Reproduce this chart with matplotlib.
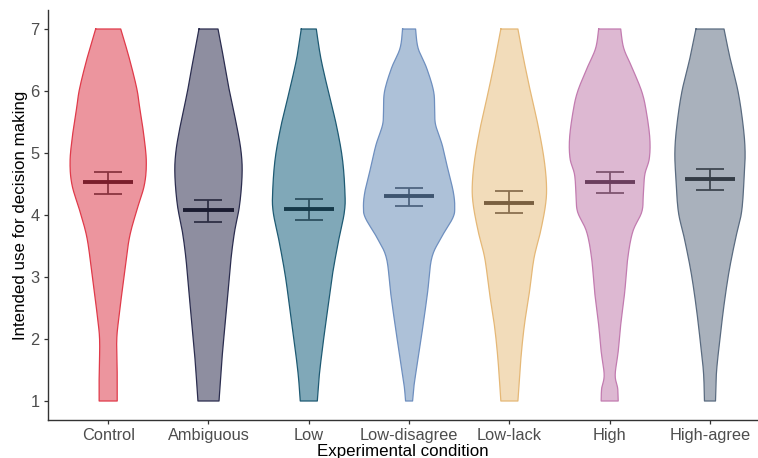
import numpy as np
import matplotlib
matplotlib.use("Agg")
import matplotlib.pyplot as plt

plt.rcParams['font.family'] = ['Liberation Sans', 'DejaVu Sans']

# Conditions and summary statistics (mean with 95% CI)
conditions = ["Control", "Ambiguous", "Low", "Low-disagree", "Low-lack", "High", "High-agree"]
means = [4.53, 4.08, 4.09, 4.30, 4.20, 4.53, 4.58]
ci_low = [4.34, 3.89, 3.92, 4.14, 4.03, 4.36, 4.40]
ci_high = [4.70, 4.25, 4.26, 4.44, 4.38, 4.70, 4.74]

# Violin density profiles: response level -> full violin width (x units)
control_y = [7, 6.53, 6.04, 5.72, 5.29, 4.86, 4.48, 4.05, 3.62, 3.03, 2.33, 1.96, 1.42, 1]
control_w = [0.25, 0.42, 0.57, 0.63, 0.71, 0.76, 0.72, 0.56, 0.42, 0.32, 0.21, 0.17, 0.18, 0.18]

ambiguous_y = [7, 6.53, 5.99, 5.45, 5.02, 4.65, 4.16, 3.73, 3.30, 2.76, 2.23, 1.69, 1]
ambiguous_w = [0.19, 0.30, 0.42, 0.56, 0.65, 0.67, 0.62, 0.52, 0.45, 0.39, 0.33, 0.27, 0.21]

low_y = [7, 6.53, 5.99, 5.45, 4.91, 4.38, 4.05, 3.57, 3.03, 2.50, 1.96, 1.42, 1]
low_w = [0.15, 0.24, 0.39, 0.55, 0.67, 0.72, 0.71, 0.59, 0.47, 0.38, 0.29, 0.21, 0.17]

lowdis_y = [7, 6.69, 6.37, 5.99, 5.67, 5.45, 5.13, 4.75, 4.38, 4.13, 3.95, 3.62, 3.30,
            2.76, 2.23, 1.69, 1.26, 1]
lowdis_w = [0.13, 0.18, 0.35, 0.49, 0.51, 0.53, 0.66, 0.77, 0.88, 0.91, 0.87, 0.63, 0.45,
            0.37, 0.28, 0.18, 0.10, 0.07]

lowlack_y = [7, 6.53, 5.99, 5.45, 4.91, 4.48, 4.16, 3.73, 3.30, 2.76, 2.23, 1.69, 1]
lowlack_w = [0.17, 0.28, 0.42, 0.57, 0.69, 0.74, 0.72, 0.62, 0.49, 0.40, 0.30, 0.23, 0.17]

high_y = [7, 6.69, 6.37, 5.99, 5.67, 5.24, 4.91, 4.65, 4.32, 4.05, 3.73, 3.30, 2.76,
          2.23, 1.80, 1.42, 1.2, 1]
high_w = [0.22, 0.28, 0.45, 0.64, 0.73, 0.80, 0.79, 0.70, 0.67, 0.64, 0.46, 0.36, 0.30,
          0.22, 0.17, 0.11, 0.16, 0.17]

highagree_y = [7, 6.53, 5.99, 5.45, 5.02, 4.59, 4.05, 3.62, 3.09, 2.55, 2.01, 1.47, 1]
highagree_w = [0.28, 0.40, 0.56, 0.66, 0.70, 0.68, 0.63, 0.51, 0.38, 0.28, 0.20, 0.13, 0.11]

profiles = [(control_y, control_w), (ambiguous_y, ambiguous_w), (low_y, low_w),
            (lowdis_y, lowdis_w), (lowlack_y, lowlack_w), (high_y, high_w),
            (highagree_y, highagree_w)]

fill_colors = ["#EC959E", "#8E8EA0", "#80A8B8", "#ADC1D8", "#F2DCBA", "#DDB8D2", "#A9B1BC"]
edge_colors = ["#E03A4A", "#2B2D4F", "#1E5A73", "#6E8FBF", "#E5B877", "#C27BB0", "#5A6B80"]
mean_colors = ["#7A1E2C", "#1A1B30", "#153848", "#3E5570", "#7A6040", "#6B3E5E", "#333B45"]
err_colors = ["#8A3540", "#2E2F45", "#2E5060", "#4E6580", "#8A7050", "#7E5570", "#3E4650"]


def smooth_outline(ys, ws, n=12):
    """Catmull-Rom pass through the profile points for a rounded outline."""
    ys = np.asarray(ys, float)
    ws = np.asarray(ws, float)
    pts = np.column_stack([ys, ws])
    ext = np.vstack([pts[0], pts, pts[-1]])
    out = []
    for i in range(1, len(ext) - 2):
        p0, p1, p2, p3 = ext[i - 1], ext[i], ext[i + 1], ext[i + 2]
        for t in np.linspace(0, 1, n, endpoint=False):
            t2, t3 = t * t, t * t * t
            out.append(0.5 * ((2 * p1) + (-p0 + p2) * t +
                              (2 * p0 - 5 * p1 + 4 * p2 - p3) * t2 +
                              (-p0 + 3 * p1 - 3 * p2 + p3) * t3))
    out.append(pts[-1])
    out = np.array(out)
    return out[:, 0], out[:, 1]


fig = plt.figure(figsize=(7.58, 4.58), dpi=100)
ax = fig.add_axes([48 / 758, (458 - 419.6) / 458, 710 / 758, 409.2 / 458])

for i, (ys, ws) in enumerate(profiles):
    x0 = i + 1
    yy, ww = smooth_outline(ys, ws)
    half = ww / 2
    ax.fill_betweenx(yy, x0 - half, x0 + half, facecolor=fill_colors[i],
                     edgecolor="none", zorder=2)
    outline_x = np.concatenate([x0 - half, (x0 + half)[::-1], [(x0 - half)[0]]])
    outline_y = np.concatenate([yy, yy[::-1], [yy[0]]])
    ax.plot(outline_x, outline_y, color=edge_colors[i], lw=0.9, zorder=3)
    # confidence interval
    ax.errorbar(x0, means[i], yerr=[[means[i] - ci_low[i]], [ci_high[i] - means[i]]],
                fmt="none", ecolor=err_colors[i], elinewidth=1.3, capsize=10,
                capthick=1.3, zorder=4)
    # mean
    ax.plot([x0 - 0.25, x0 + 0.25], [means[i], means[i]], color=mean_colors[i],
            lw=2.8, solid_capstyle="butt", zorder=5)

ax.set_xlim(0.4, 0.4 + 710 / 100.3)
ax.set_ylim(0.7, 7.3)
ax.set_xticks(range(1, len(conditions) + 1))
ax.set_xticklabels(conditions)
ax.set_yticks(range(1, 8))

for side in ["top", "right"]:
    ax.spines[side].set_visible(False)
for side in ["left", "bottom"]:
    ax.spines[side].set_color("#333333")
    ax.spines[side].set_linewidth(1.0)

ax.tick_params(axis="both", colors="#333333", length=3, width=0.9,
               labelsize=11.8, labelcolor="#4D4D4D", pad=3)

ax.set_xlabel("Experimental condition", fontsize=12.2, color="black", labelpad=1)
ax.set_ylabel("Intended use for decision making", fontsize=12.2, color="black", labelpad=2)

fig.savefig("out.png", dpi=100)
